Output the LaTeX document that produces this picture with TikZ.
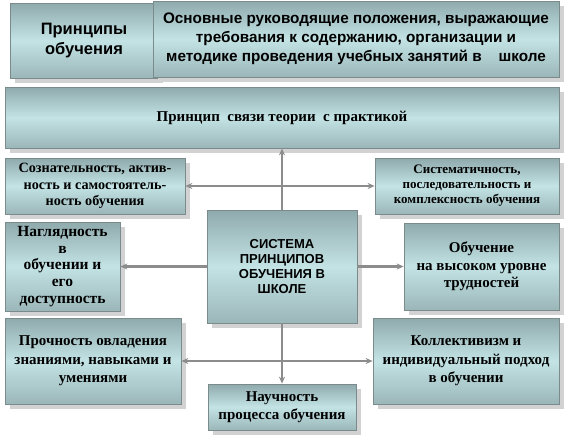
\documentclass[tikz,border=0pt]{standalone}
\usepackage{fontspec}
\setmainfont{Liberation Serif}
\newfontfamily\sansb{Liberation Sans}
\usetikzlibrary{shadows,arrows.meta}
\definecolor{bxtop}{HTML}{8FAAAC}
\definecolor{bxmid}{HTML}{C3E3E5}
\definecolor{bxbot}{HTML}{9BB6B8}
\definecolor{bxline}{HTML}{7B8A8B}
\definecolor{conncol}{HTML}{8C8C8C}
\definecolor{shad}{HTML}{D2D2D2}
\tikzset{
  bx/.style={draw=bxline, line width=0.7pt, top color=bxtop, bottom color=bxbot, middle color=bxmid,
    drop shadow={shadow xshift=5pt, shadow yshift=-5pt, fill=shad, opacity=1},
    align=center, inner sep=1pt},
  conn/.style={draw=conncol, line width=2.2pt, -{Stealth[length=7pt,width=6pt]}},
  connb/.style={draw=conncol, line width=2.2pt, {Stealth[length=7pt,width=6pt]}-{Stealth[length=7pt,width=6pt]}},
}
\begin{document}
\begin{tikzpicture}[x=1pt,y=-1pt]
\useasboundingbox (0,0) rectangle (570,439);
\fill[white] (0,0) rectangle (570,439);

\node[bx, minimum width=148pt, minimum height=75pt, font=\sansb\bfseries\fontsize{16.5}{20}\selectfont] (A) at (84,40.5) {Принципы\\обучения};
\node[bx, minimum width=406pt, minimum height=76pt, font=\sansb\bfseries\fontsize{15.3}{19}\selectfont] (B) at (356,39) {Основные руководящие положения, выражающие\\требования к содержанию, организации и\\методике проведения учебных занятий в\hspace{1.1em}школе};
\node[bx, minimum width=554pt, minimum height=61pt, font=\bfseries\fontsize{15}{17}\selectfont] (C) at (282,117.5) {Принцип\ \ связи теории\ \ с практикой};

\node[bx, minimum width=180pt, minimum height=56pt, font=\bfseries\fontsize{14.2}{16.5}\selectfont] (D) at (95,186) {Сознательность, актив-\\ность и самостоятель-\\ность обучения};
\node[bx, minimum width=184pt, minimum height=56pt, font=\bfseries\fontsize{13}{15}\selectfont] (E) at (467,186) {Систематичность,\\последовательность и\\комплексность обучения};

\node[bx, minimum width=115pt, minimum height=89pt, font=\bfseries\fontsize{15.5}{16.7}\selectfont] (F) at (62.5,266.5) {Наглядность\\в\\обучении и\\его\\доступность};
\node[bx, minimum width=150pt, minimum height=113pt, font=\sansb\bfseries\fontsize{13}{15}\selectfont] (K) at (282,266.5) {СИСТЕМА\\ПРИНЦИПОВ\\ОБУЧЕНИЯ В\\ШКОЛЕ};
\node[bx, minimum width=155pt, minimum height=87pt, font=\bfseries\fontsize{15}{17.5}\selectfont] (G) at (481.5,266.5) {Обучение\\на высоком уровне\\трудностей};

\node[bx, minimum width=176pt, minimum height=86pt, font=\bfseries\fontsize{15}{18.5}\selectfont] (H) at (93,361) {Прочность овладения\\знаниями, навыками и\\умениями};
\node[bx, minimum width=186pt, minimum height=86pt, font=\bfseries\fontsize{15}{18.5}\selectfont] (I) at (466,361) {Коллективизм и\\индивидуальный подход\\в обучении};
\node[bx, minimum width=148pt, minimum height=46pt, font=\bfseries\fontsize{15}{18}\selectfont] (J) at (282,407) {Научность\\процесса обучения};

\draw[conn] (K.north) -- (C.south);
\draw[connb] (D.east) -- (E.west);
\draw[conn] (K.west) -- (F.east);
\draw[conn] (K.east) -- (G.west);
\draw[conn] (K.south) -- (J.north);
\draw[connb] (H.east) -- (I.west);
\end{tikzpicture}
\end{document}
